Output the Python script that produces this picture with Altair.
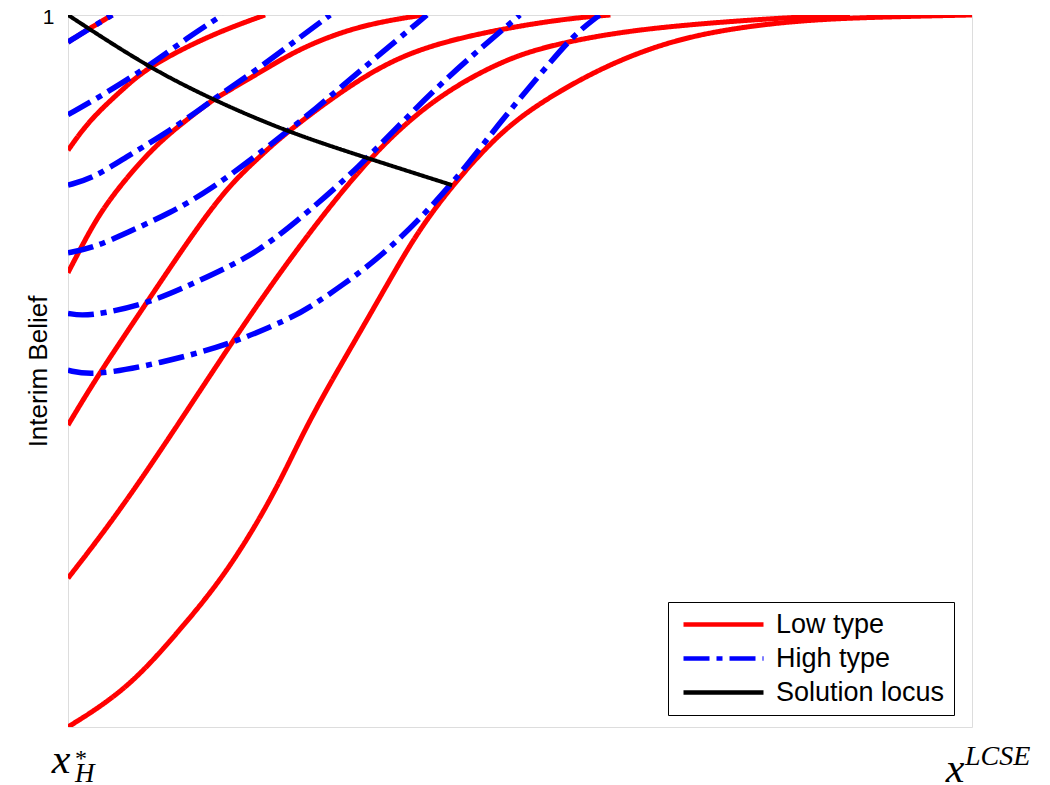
import altair as alt
import pandas as pd

# Signal axis: 0 = x*_H (left), 1 = x^LCSE (right); Interim belief: 0 .. 1 (top)
types = ["Low type", "High type", "Solution locus"]

# ---- Low type (red, solid) ----
low1_x = [0.0, 0.025, 0.049]
low1_y = [0.962, 0.982, 1.0]
low2_x = [0.0, 0.024, 0.060, 0.088, 0.157, 0.218]
low2_y = [0.810, 0.853, 0.895, 0.927, 0.972, 1.0]
low3_x = [0.0, 0.013, 0.035, 0.065, 0.102, 0.146, 0.160, 0.212, 0.257, 0.323, 0.393]
low3_y = [0.638, 0.670, 0.722, 0.772, 0.824, 0.867, 0.881, 0.919, 0.954, 0.986, 1.0]
low4_x = [0.0, 0.032, 0.087, 0.135, 0.176, 0.212, 0.242, 0.331, 0.404, 0.533, 0.600]
low4_y = [0.424, 0.492, 0.596, 0.687, 0.758, 0.801, 0.836, 0.920, 0.962, 0.993, 1.0]
low5_x = [0.0, 0.069, 0.179, 0.246, 0.331, 0.404, 0.478, 0.533, 0.633, 0.799, 0.865]
low5_y = [0.209, 0.322, 0.537, 0.660, 0.799, 0.883, 0.935, 0.958, 0.982, 0.997, 1.0]
low6_x = [0.0, 0.065, 0.121, 0.176, 0.231, 0.265, 0.320, 0.356, 0.386, 0.425, 0.478,
          0.528, 0.596, 0.669, 0.743, 0.817, 0.890, 1.0]
low6_y = [0.0, 0.052, 0.132, 0.216, 0.333, 0.428, 0.548, 0.628, 0.694, 0.761, 0.836,
          0.882, 0.930, 0.965, 0.983, 0.993, 0.997, 1.0]

# ---- High type (blue, dash-dot) ----
high1_x = [0.0, 0.025, 0.049]
high1_y = [0.962, 0.982, 1.0]
high2_x = [0.0, 0.039, 0.088, 0.132, 0.171]
high2_y = [0.860, 0.888, 0.927, 0.968, 1.0]
high3_x = [0.0, 0.028, 0.065, 0.102, 0.146, 0.160, 0.212, 0.257, 0.290]
high3_y = [0.761, 0.771, 0.801, 0.829, 0.867, 0.881, 0.926, 0.969, 1.0]
high4_x = [0.0, 0.028, 0.065, 0.113, 0.157, 0.212, 0.242, 0.268, 0.331, 0.397]
high4_y = [0.666, 0.673, 0.694, 0.722, 0.754, 0.806, 0.836, 0.862, 0.930, 1.0]
high5_x = [0.0, 0.021, 0.087, 0.135, 0.176, 0.212, 0.246, 0.320, 0.404, 0.500]
high5_y = [0.581, 0.576, 0.594, 0.621, 0.645, 0.670, 0.703, 0.782, 0.897, 1.0]
high6_x = [0.0, 0.028, 0.102, 0.179, 0.246, 0.268, 0.301, 0.356, 0.425, 0.478, 0.522, 0.559, 0.588]
high6_y = [0.501, 0.493, 0.511, 0.537, 0.574, 0.590, 0.618, 0.670, 0.761, 0.850, 0.916, 0.972, 1.0]

# ---- Solution locus (black) ----
locus_x = [0.0, 0.088, 0.160, 0.242, 0.331, 0.425]
locus_y = [1.0, 0.927, 0.881, 0.836, 0.799, 0.761]

curves = [
    ("L1", "Low type", low1_x, low1_y), ("L2", "Low type", low2_x, low2_y),
    ("L3", "Low type", low3_x, low3_y), ("L4", "Low type", low4_x, low4_y),
    ("L5", "Low type", low5_x, low5_y), ("L6", "Low type", low6_x, low6_y),
    ("H1", "High type", high1_x, high1_y), ("H2", "High type", high2_x, high2_y),
    ("H3", "High type", high3_x, high3_y), ("H4", "High type", high4_x, high4_y),
    ("H5", "High type", high5_x, high5_y), ("H6", "High type", high6_x, high6_y),
    ("S", "Solution locus", locus_x, locus_y),
]
rows = []
for cid, t, xs_, ys_ in curves:
    for xv, yv in zip(xs_, ys_):
        rows.append({"x": xv, "y": yv, "curve": cid, "type": t})
df = pd.DataFrame(rows)

FONT = "Liberation Sans"
MATH = "Liberation Serif"

color_scale = alt.Scale(domain=types, range=["#ff0000", "#0000ff", "#000000"])
dash_scale = alt.Scale(domain=types, range=[[1, 0], [26, 7, 6, 7], [1, 0]])

leg = alt.Legend(
    title=None, orient="none", legendX=600, legendY=587,
    symbolType="M-0.7,0H7.3", symbolSize=400, symbolStrokeWidth=4.5,
    labelFont=FONT, labelFontSize=27, labelColor="black", labelLimit=400,
    labelOffset=72, padding=9, rowPadding=6,
    strokeColor="black", fillColor="white", cornerRadius=0,
)

x_axis = alt.Axis(
    title="Signal", labels=False, ticks=False, domain=False, grid=False,
    titleFont=FONT, titleFontSize=26, titleFontWeight="normal", titleColor="black",
    titleX=452, titleY=43, titleAlign="center", titleBaseline="alphabetic",
)
y_axis = alt.Axis(
    title="Interim Belief", values=[1], ticks=False, domain=False, grid=False,
    labelFlush=False, labelFont=FONT, labelFontSize=21, labelColor="black",
    labelPadding=14, labelOffset=2,
    titleFont=FONT, titleFontSize=26, titleFontWeight="normal", titleColor="black",
    titleX=-30, titleY=356, titleAngle=270, titleAlign="center", titleBaseline="middle",
)

xs = alt.Scale(domain=[0, 1], nice=False, zero=False)
ys = alt.Scale(domain=[0, 1], nice=False, zero=False)

base = alt.Chart(df)


def lines(t, sw):
    return base.transform_filter(alt.datum.type == t).mark_line(
        strokeWidth=sw, interpolate="basis", clip=True, strokeCap="butt"
    ).encode(
        x=alt.X("x:Q", scale=xs, axis=x_axis),
        y=alt.Y("y:Q", scale=ys, axis=y_axis),
        detail="curve:N",
        color=alt.Color("type:N", scale=color_scale, legend=leg),
        strokeDash=alt.StrokeDash("type:N", scale=dash_scale, legend=leg),
    )


# x-axis end labels (math style): x*_H and x^LCSE
lab_pos = [0.0, 1.0]


def tex(pos, text, size, dx, ypix, align, italic=True):
    return alt.Chart(pd.DataFrame({"x": [pos], "t": [text]})).mark_text(
        font=MATH, fontSize=size, fontStyle="italic" if italic else "normal",
        align=align, baseline="alphabetic", dx=dx, color="black",
    ).encode(x=alt.X("x:Q", scale=xs, axis=None), y=alt.value(ypix), text="t:N")


labels = [
    tex(lab_pos[0], "x", 42, -7, 758, "center"),
    tex(lab_pos[0], "*", 24, 13, 751, "center", italic=False),
    tex(lab_pos[0], "H", 27, 7, 767, "left"),
    tex(lab_pos[1], "x", 42, -17, 767, "center"),
    tex(lab_pos[1], "LCSE", 28, -7, 750, "left"),
]

chart = alt.layer(
    lines("Low type", 5), lines("High type", 5.5), lines("Solution locus", 4), *labels
).properties(
    width=904, height=712,
    autosize=alt.AutoSizeParams(type="none"),
    padding={"left": 60, "top": 7, "right": 70, "bottom": 58},
).configure_view(stroke="#111111", strokeWidth=1.5).configure(background="white")

chart.save("out.html", embed_options={"renderer": "svg", "actions": False})
